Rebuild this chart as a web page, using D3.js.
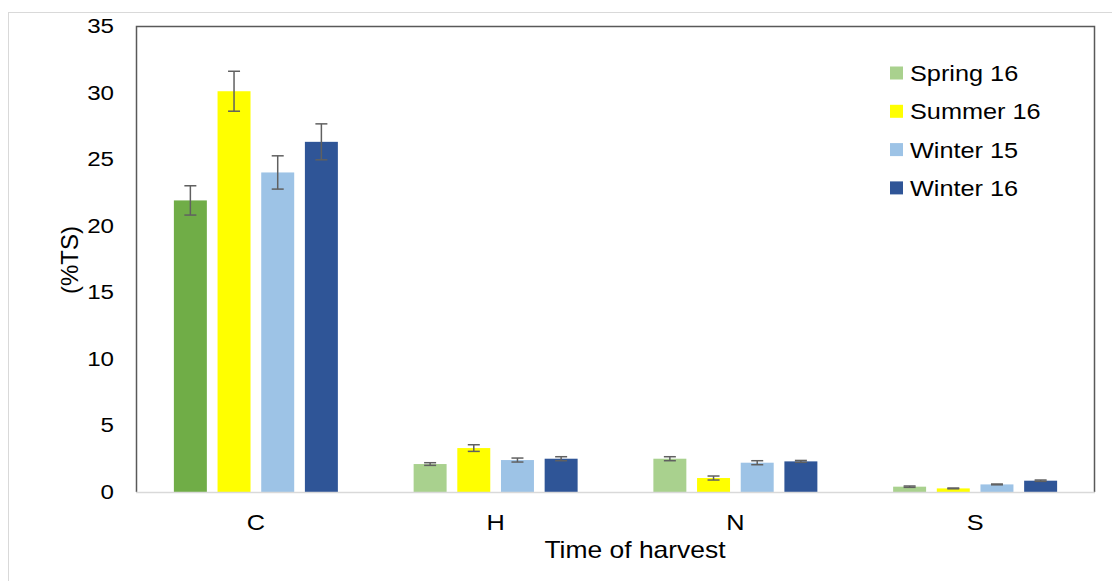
<!DOCTYPE html>
<html>
<head>
<meta charset="utf-8">
<script src="https://cdn.jsdelivr.net/npm/d3@7"></script>
<style>
  body { margin: 0; background: #fff; }
  text { font-family: "Liberation Sans", Arial, sans-serif; fill: #000; }
</style>
</head>
<body>
<div id="chart"></div>
<script>
// categories and series
const elements = ['C', 'H', 'N', 'S'];
const seasons = ['Spring 16', 'Summer 16', 'Winter 15', 'Winter 16'];
const seasonColors = ['#A9D18E', '#FFFF00', '#9DC3E6', '#2F5597'];
const highlightColor = '#70AD47'; // Spring 16 bar for C is drawn darker

const spring16 = [21.9, 2.1, 2.5, 0.4];
const summer16 = [30.1, 3.3, 1.05, 0.27];
const winter15 = [24.0, 2.4, 2.2, 0.57];
const winter16 = [26.3, 2.5, 2.3, 0.85];

const spring16Err = [1.1, 0.1, 0.15, 0.05];
const summer16Err = [1.5, 0.25, 0.15, 0.03];
const winter15Err = [1.25, 0.15, 0.15, 0.03];
const winter16Err = [1.35, 0.15, 0.07, 0.05];

const yTicks = [0, 5, 10, 15, 20, 25, 30, 35];

const W = 1112, H = 581;
const margin = { top: 26, right: 17, bottom: 89, left: 136 };
const width = W - margin.left - margin.right;
const height = H - margin.top - margin.bottom;
const sx = 1.15; // text is slightly wide in the reference

const values = [spring16, summer16, winter15, winter16];
const errs = [spring16Err, summer16Err, winter15Err, winter16Err];
const rows = [];
elements.forEach((el, i) => {
    seasons.forEach((s, j) => {
        rows.push({ el, season: s, j, value: values[j][i], err: errs[j][i] });
    });
});

const svg = d3.select('#chart').append('svg')
    .attr('width', W).attr('height', H);

// outer chart border
svg.append('rect')
    .attr('x', 8.5).attr('y', 12.5)
    .attr('width', W).attr('height', H)
    .attr('fill', 'none').attr('stroke', '#d9d9d9').attr('stroke-width', 1);

const g = svg.append('g').attr('transform', `translate(${margin.left},${margin.top})`);

const x0 = d3.scaleBand().domain(elements).range([0, width])
    .paddingInner(0.316).paddingOuter(0.158);
const x1 = d3.scaleBand().domain(seasons).range([0, x0.bandwidth()])
    .paddingInner(0.245).paddingOuter(0);
const y = d3.scaleLinear().domain([0, 35]).range([height, 0]);

// plot area frame (left, top, right)
g.append('path')
    .attr('d', `M0.5,${height} V0.5 H${width - 0.5} V${height}`)
    .attr('fill', 'none').attr('stroke', '#595959').attr('stroke-width', 1.5);

// bars
g.selectAll('.bar').data(rows).enter().append('rect')
    .attr('class', 'bar')
    .attr('x', d => x0(d.el) + x1(d.season))
    .attr('y', d => y(d.value))
    .attr('width', x1.bandwidth())
    .attr('height', d => height - y(d.value))
    .attr('fill', d => (d.el === 'C' && d.j === 0) ? highlightColor : seasonColors[d.j]);

// x axis line
g.append('line')
    .attr('x1', 0).attr('x2', width)
    .attr('y1', height + 0.5).attr('y2', height + 0.5)
    .attr('stroke', '#d9d9d9').attr('stroke-width', 1.5);

// error bars
const cap = 6;
const eb = g.selectAll('.err').data(rows).enter().append('g').attr('class', 'err')
    .attr('stroke', '#606060').attr('stroke-width', 1.5);
eb.append('line')
    .attr('x1', d => x0(d.el) + x1(d.season) + x1.bandwidth() / 2)
    .attr('x2', d => x0(d.el) + x1(d.season) + x1.bandwidth() / 2)
    .attr('y1', d => y(d.value + d.err))
    .attr('y2', d => y(d.value - d.err));
['+', '-'].forEach(sign => {
    eb.append('line')
        .attr('x1', d => x0(d.el) + x1(d.season) + x1.bandwidth() / 2 - cap)
        .attr('x2', d => x0(d.el) + x1(d.season) + x1.bandwidth() / 2 + cap)
        .attr('y1', d => y(sign === '+' ? d.value + d.err : d.value - d.err))
        .attr('y2', d => y(sign === '+' ? d.value + d.err : d.value - d.err));
});

// y tick labels
g.selectAll('.ytick').data(yTicks).enter().append('text')
    .attr('class', 'ytick')
    .attr('transform', d => `translate(-22,${y(d) + 7}) scale(${sx},1)`)
    .attr('text-anchor', 'end')
    .attr('font-size', 21)
    .text(d => d);

// x category labels
g.selectAll('.xtick').data(elements).enter().append('text')
    .attr('class', 'xtick')
    .attr('transform', d => `translate(${x0(d) + x0.bandwidth() / 2},${height + 38}) scale(${sx},1)`)
    .attr('text-anchor', 'middle')
    .attr('font-size', 22)
    .text(d => d);

// axis titles
svg.append('text')
    .attr('transform', `translate(635,558) scale(${sx},1)`)
    .attr('text-anchor', 'middle')
    .attr('font-size', 23)
    .text('Time of harvest');

svg.append('text')
    .attr('transform', 'translate(78,260) rotate(-90)')
    .attr('text-anchor', 'middle')
    .attr('font-size', 24)
    .text('(%TS)');

// legend
const legend = svg.append('g').attr('transform', 'translate(890,73)');
const li = legend.selectAll('.li').data(seasons).enter().append('g')
    .attr('transform', (d, i) => `translate(0,${i * 38.3})`);
li.append('rect')
    .attr('x', 0).attr('y', -6.5).attr('width', 13).attr('height', 13)
    .attr('fill', (d, i) => seasonColors[i]);
li.append('text')
    .attr('transform', `translate(20,8) scale(${sx},1)`)
    .attr('font-size', 22)
    .text(d => d);
</script>
</body>
</html>
